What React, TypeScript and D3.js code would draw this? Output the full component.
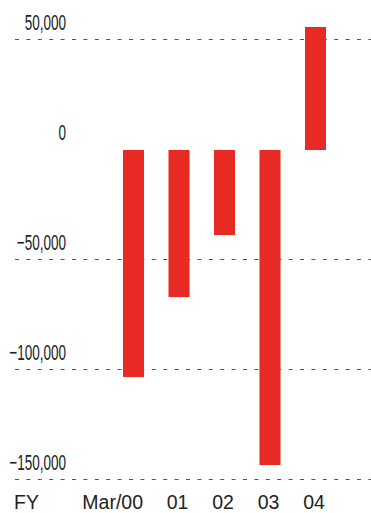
import React from "react";
import * as d3 from "d3";

const categories = ["Mar/00", "01", "02", "03", "04"];
const values = [-103300, -66900, -38800, -143400, 55700];
const yTicks = [50000, 0, -50000, -100000, -150000];
const gridTicks = [50000, -50000, -100000, -150000];
const axisTitle = "FY";

const W = 371;
const H = 513;

export default function App() {
  const x = d3
    .scaleBand<string>()
    .domain(categories)
    .range([123, 326])
    .paddingInner(0.538)
    .paddingOuter(0);
  const y = d3.scaleLinear().domain([-150000, 50000]).range([479.5, 39.5]);
  const fmt = d3.format(",");
  const y0 = Math.round(y(0));

  return (
    <svg
      width={W}
      height={H}
      style={{ position: "absolute", left: 0, top: 0, background: "#fff" }}
    >
      {gridTicks.map((t) => (
        <line
          key={"g" + t}
          x1={15}
          x2={W}
          y1={y(t)}
          y2={y(t)}
          stroke="#555"
          strokeWidth={1.2}
          strokeDasharray="4,7.4"
        />
      ))}
      {yTicks.map((t) => (
        <text
          key={"t" + t}
          transform={`translate(66,${y(t) - 10}) scale(0.6,1)`}
          textAnchor="end"
          fontFamily="'Liberation Sans', Arial, sans-serif"
          fontSize={22.5}
          fill="#222"
        >
          {fmt(t)}
        </text>
      ))}
      {categories.map((c, i) => {
        const v = values[i];
        const top = Math.round(Math.min(y(v), y(0)));
        const bot = Math.round(Math.max(y(v), y(0)));
        return (
          <rect
            key={c}
            x={x(c)}
            y={v >= 0 ? top : y0}
            width={x.bandwidth()}
            height={v >= 0 ? y0 - top : bot - y0}
            fill="#e82a25"
          />
        );
      })}
      <text
        x={14}
        y={508.5}
        fontFamily="'Liberation Sans', Arial, sans-serif"
        fontSize={19.5}
        fill="#222"
      >
        {axisTitle}
      </text>
      {categories.map((c, i) => (
        <text
          key={"l" + c}
          x={i === 0 ? (x(c) as number) + x.bandwidth() - 1 : (x(c) as number) + x.bandwidth() / 2 - 1.5}
          y={508.5}
          textAnchor={i === 0 ? "end" : "middle"}
          fontFamily="'Liberation Sans', Arial, sans-serif"
          fontSize={19.5}
          fill="#222"
        >
          {c}
        </text>
      ))}
    </svg>
  );
}
